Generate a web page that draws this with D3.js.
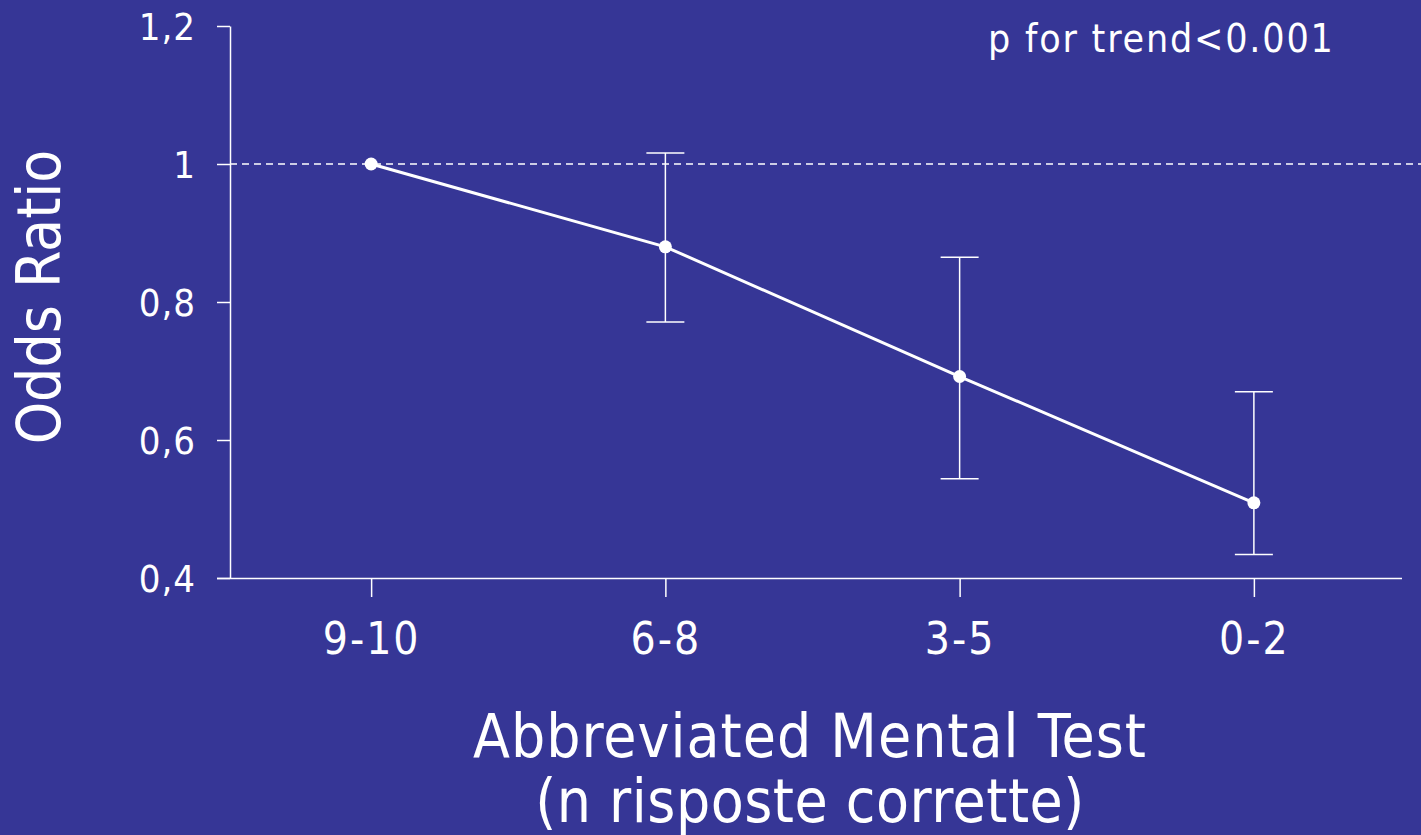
<!DOCTYPE html>
<html>
<head>
<meta charset="utf-8">
<script src="https://cdn.jsdelivr.net/npm/d3@7"></script>
<style>
  body { margin: 0; background: #363696; }
  svg { display: block; }
  text { font-family: "DejaVu Sans Condensed", "DejaVu Sans", sans-serif; fill: #fff; }
</style>
</head>
<body>
<div id="chart"></div>
<script>
var svgWidth = 1421;
var svgHeight = 835;

// data
var categories = ["9-10", "6-8", "3-5", "0-2"];
var oddsRatio = [1.0, 0.88, 0.692, 0.509];
var ciLow = [null, 0.771, 0.544, 0.434];
var ciHigh = [null, 1.016, 0.865, 0.67];
var yTicks = [0.4, 0.6, 0.8, 1, 1.2];

var data = categories.map(function(c, i) {
  return { cat: c, or: oddsRatio[i], lo: ciLow[i], hi: ciHigh[i] };
});

var svg = d3.select("#chart")
  .append("svg")
  .attr("width", svgWidth)
  .attr("height", svgHeight);

var x = d3.scalePoint().domain(categories).range([224, 1401]).padding(0.5);
var y = d3.scaleLinear().domain([0.4, 1.2]).range([578, 26]);
var yAxisX = 230;

// reference line at OR = 1
svg.append("line")
  .attr("x1", yAxisX).attr("x2", svgWidth)
  .attr("y1", y(1)).attr("y2", y(1))
  .attr("stroke", "#fff")
  .attr("stroke-width", 1.5)
  .attr("stroke-dasharray", "7,5");

// y axis
var yAxis = d3.axisLeft(y)
  .tickValues(yTicks)
  .tickSize(13)
  .tickSizeOuter(0)
  .tickPadding(21)
  .tickFormat(function(d) { return d === 1 ? "1" : d3.format(".1f")(d).replace(".", ","); });

var gy = svg.append("g")
  .attr("transform", "translate(" + yAxisX + ",0)")
  .call(yAxis);
gy.selectAll("path, line").attr("stroke", "#fff").attr("stroke-width", 1.5);
gy.selectAll("text").attr("fill", "#fff").style("font-size", "38px")
  .style("letter-spacing", "1px").attr("dy", "0.35em");

// x axis
var xAxis = d3.axisBottom(x)
  .tickSize(19)
  .tickSizeOuter(0)
  .tickPadding(26);

var gx = svg.append("g")
  .attr("transform", "translate(0," + y(0.4) + ")")
  .call(xAxis);
gx.select(".domain").attr("d", "M217,0.5H1402");
gx.selectAll("path, line").attr("stroke", "#fff").attr("stroke-width", 1.5);
gx.selectAll("text").attr("fill", "#fff").style("font-size", "44px")
  .style("letter-spacing", "2px");

// error bars
var capW = 19;
var bars = svg.append("g").selectAll("g")
  .data(data.filter(function(d) { return d.lo !== null; }))
  .enter().append("g")
  .attr("stroke", "#fff")
  .attr("stroke-width", 1.5);

bars.append("line")
  .attr("x1", function(d) { return x(d.cat); })
  .attr("x2", function(d) { return x(d.cat); })
  .attr("y1", function(d) { return y(d.lo); })
  .attr("y2", function(d) { return y(d.hi); });
bars.append("line")
  .attr("x1", function(d) { return x(d.cat) - capW; })
  .attr("x2", function(d) { return x(d.cat) + capW; })
  .attr("y1", function(d) { return y(d.hi); })
  .attr("y2", function(d) { return y(d.hi); });
bars.append("line")
  .attr("x1", function(d) { return x(d.cat) - capW; })
  .attr("x2", function(d) { return x(d.cat) + capW; })
  .attr("y1", function(d) { return y(d.lo); })
  .attr("y2", function(d) { return y(d.lo); });

// line + points
var line = d3.line()
  .x(function(d) { return x(d.cat); })
  .y(function(d) { return y(d.or); });

svg.append("path")
  .datum(data)
  .attr("d", line)
  .attr("fill", "none")
  .attr("stroke", "#fff")
  .attr("stroke-width", 3);

svg.selectAll(".pt")
  .data(data)
  .enter()
  .append("circle")
  .attr("class", "pt")
  .attr("cx", function(d) { return x(d.cat); })
  .attr("cy", function(d) { return y(d.or); })
  .attr("r", 6.5)
  .attr("fill", "#fff");

// labels
svg.append("text")
  .attr("x", 988)
  .attr("y", 52)
  .style("font-size", "39px")
  .style("letter-spacing", "1.8px")
  .text("p for trend<0.001");

svg.append("text")
  .attr("transform", "translate(60," + 297 + ") rotate(-90)")
  .attr("text-anchor", "middle")
  .style("font-size", "60px")
  .text("Odds Ratio");

svg.append("text")
  .attr("x", 810)
  .attr("y", 757)
  .attr("text-anchor", "middle")
  .style("font-size", "60px")
  .style("letter-spacing", "1px")
  .text("Abbreviated Mental Test");

svg.append("text")
  .attr("x", 810)
  .attr("y", 822)
  .attr("text-anchor", "middle")
  .style("font-size", "60px")
  .style("letter-spacing", "0.5px")
  .text("(n risposte corrette)");
</script>
</body>
</html>
